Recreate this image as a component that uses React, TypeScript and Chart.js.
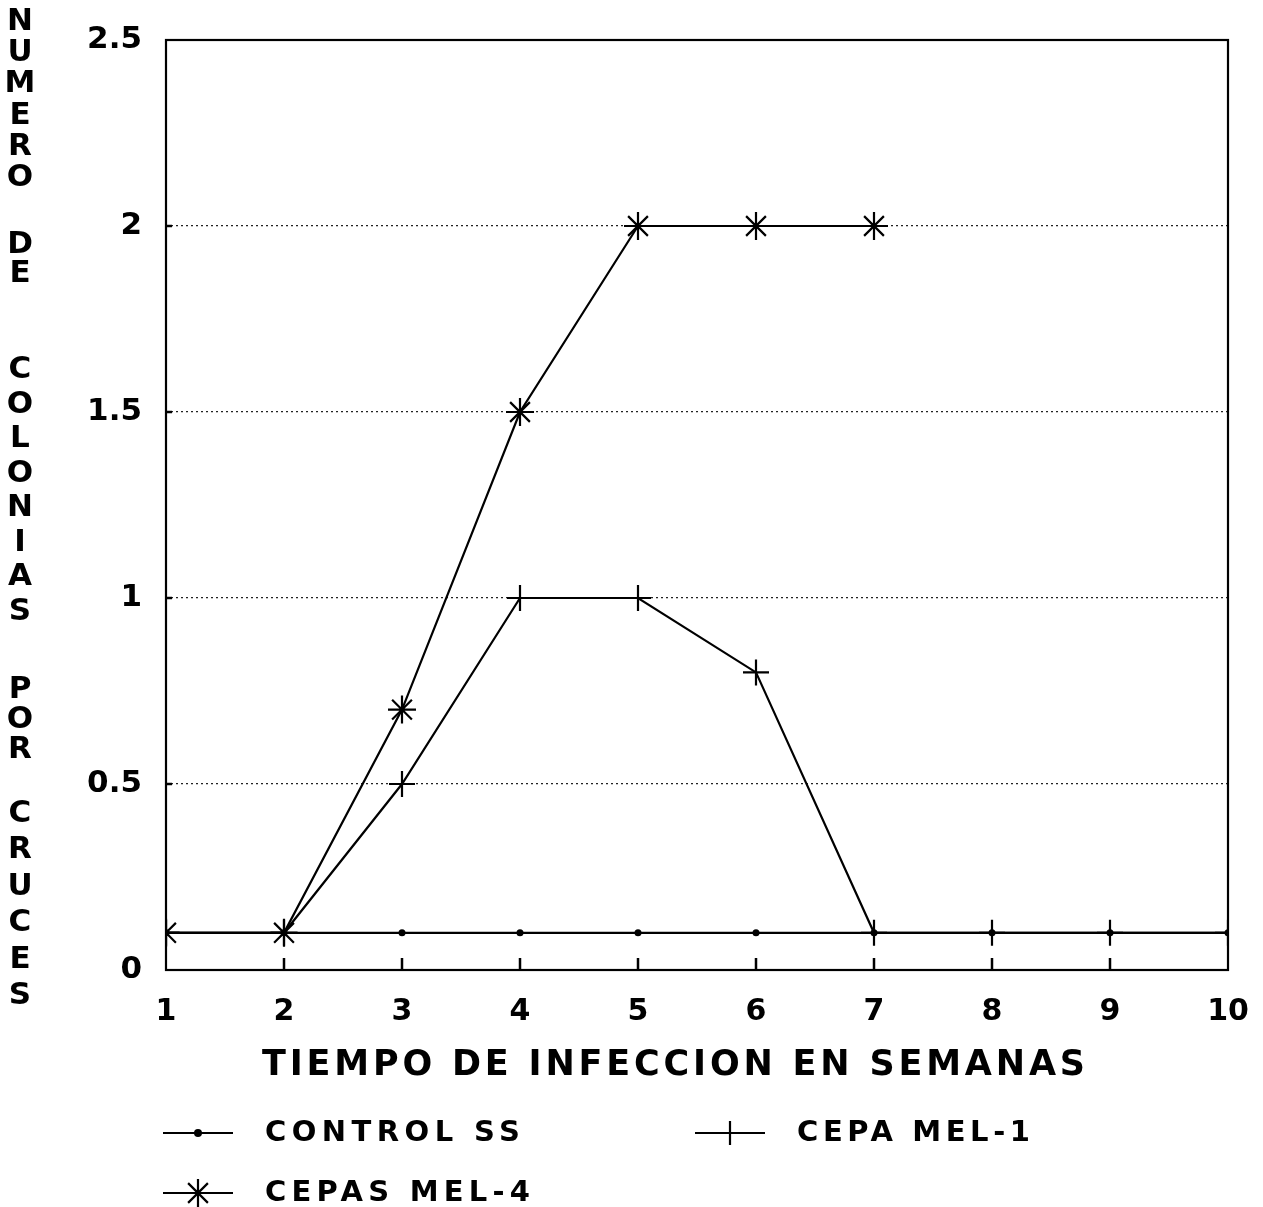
import React, { useEffect, useRef } from "react";
import { Chart, registerables } from "chart.js";

Chart.register(...registerables);

const weeks = [1, 2, 3, 4, 5, 6, 7, 8, 9, 10];
const controlSS = [0.1, 0.1, 0.1, 0.1, 0.1, 0.1, 0.1, 0.1, 0.1, 0.1];
const cepaMel1 = [0.1, 0.1, 0.5, 1, 1, 0.8, 0.1, 0.1, 0.1, 0.1];
const cepasMel4 = [0.1, 0.1, 0.7, 1.5, 2, 2, 2, null, null, null];
const seriesNames = ["CONTROL SS", "CEPA MEL-1", "CEPAS MEL-4"];
const yMin = 0;
const yMax = 2.5;
const yStep = 0.5;
const xTitle = "TIEMPO DE INFECCION EN SEMANAS";
const yTitle = "NUMERO DE COLONIAS POR CRUCES";

const FONT = "'DejaVu Sans', 'Liberation Sans', Arial, sans-serif";

function toPoints(vals: (number | null)[]) {
  return weeks.map((w, i) => ({ x: w, y: vals[i] }));
}

function drawSpaced(ctx: CanvasRenderingContext2D, text: string, left: number, right: number, yc: number, font: string) {
  ctx.save();
  ctx.font = font;
  ctx.textBaseline = "middle";
  ctx.textAlign = "left";
  (ctx as any).letterSpacing = "0px";
  const w = ctx.measureText(text).width;
  const n = text.length;
  const sp = n > 1 ? (right - left - w) / (n - 1) : 0;
  (ctx as any).letterSpacing = sp + "px";
  ctx.fillStyle = "#000";
  ctx.fillText(text, left, yc);
  ctx.restore();
}

function drawMarker(ctx: CanvasRenderingContext2D, kind: string, x: number, y: number, r: number) {
  ctx.beginPath();
  if (kind === "dot") {
    ctx.arc(x, y, r, 0, Math.PI * 2);
    ctx.fill();
    return;
  }
  ctx.moveTo(x, y - r);
  ctx.lineTo(x, y + r);
  ctx.moveTo(x - r, y);
  ctx.lineTo(x + r, y);
  if (kind === "star") {
    const d = r * Math.SQRT1_2;
    ctx.moveTo(x - d, y - d);
    ctx.lineTo(x + d, y + d);
    ctx.moveTo(x - d, y + d);
    ctx.lineTo(x + d, y - d);
  }
  ctx.stroke();
}

// vertical placement of each word of the stacked y title: [first letter centre, last letter centre]
const yTitleWordSpans: [number, number][] = [
  [22, 178],
  [245, 274],
  [370, 612],
  [690, 750],
  [814, 996],
];

const decorPlugin = {
  id: "decor",
  beforeDraw(chart: any) {
    const ctx = chart.ctx;
    ctx.save();
    ctx.fillStyle = "#fff";
    ctx.fillRect(0, 0, chart.width, chart.height);
    ctx.restore();
  },
  afterDatasetsDraw(chart: any) {
    const ctx: CanvasRenderingContext2D = chart.ctx;
    const { left, right, top, bottom } = chart.chartArea;
    const xs = chart.scales.x;
    const ys = chart.scales.y;
    ctx.save();
    ctx.strokeStyle = "#000";
    ctx.fillStyle = "#000";
    ctx.lineWidth = 2.2;
    ctx.strokeRect(left, top, right - left, bottom - top);
    // inward tick marks
    ctx.lineWidth = 2.5;
    for (let i = 1; i < weeks.length - 1; i++) {
      const px = xs.getPixelForValue(weeks[i]);
      ctx.beginPath();
      ctx.moveTo(px, bottom);
      ctx.lineTo(px, bottom - 12);
      ctx.stroke();
    }
    for (let v = yMin + yStep; v < yMax; v += yStep) {
      const py = ys.getPixelForValue(v);
      ctx.beginPath();
      ctx.moveTo(left, py);
      ctx.lineTo(left + 6, py);
      ctx.stroke();
    }
    // y title (stacked letters)
    ctx.font = `bold 31px ${FONT}`;
    ctx.textAlign = "center";
    ctx.textBaseline = "middle";
    const words = yTitle.split(" ");
    words.forEach((wd, wi) => {
      const [a, b] = yTitleWordSpans[wi];
      const st = wd.length > 1 ? (b - a) / (wd.length - 1) : 0;
      for (let i = 0; i < wd.length; i++) ctx.fillText(wd[i], 20, a + i * st);
    });
    // x title
    drawSpaced(ctx, xTitle, 262, 1085, 1066, `bold 35px ${FONT}`);
    // legend
    const legend = [
      { name: seriesNames[0], kind: "dot", sx: 163, tx: 265, tr: 520, y: 1133, r: 4 },
      { name: seriesNames[1], kind: "cross", sx: 695, tx: 797, tr: 1030, y: 1133, r: 12 },
      { name: seriesNames[2], kind: "star", sx: 163, tx: 265, tr: 530, y: 1193, r: 14 },
    ];
    for (const it of legend) {
      ctx.lineWidth = 2.2;
      ctx.beginPath();
      ctx.moveTo(it.sx, it.y);
      ctx.lineTo(it.sx + 70, it.y);
      ctx.stroke();
      drawMarker(ctx, it.kind, it.sx + 35, it.y, it.r);
      drawSpaced(ctx, it.name, it.tx, it.tr, it.y, `bold 29px ${FONT}`);
    }
    ctx.restore();
  },
};

export default function App() {
  const ref = useRef<HTMLCanvasElement | null>(null);
  useEffect(() => {
    if (!ref.current) return;
    const chart = new Chart(ref.current, {
      type: "line",
      data: {
        datasets: [
          {
            label: seriesNames[0],
            data: toPoints(controlSS),
            borderColor: "#000",
            backgroundColor: "#000",
            borderWidth: 2.2,
            pointStyle: "circle",
            pointRadius: 3.5,
            pointBorderWidth: 0,
            pointBackgroundColor: "#000",
          },
          {
            label: seriesNames[1],
            data: toPoints(cepaMel1),
            borderColor: "#000",
            backgroundColor: "#000",
            borderWidth: 2.2,
            pointStyle: "cross",
            pointRadius: 13,
            pointBorderWidth: 2.2,
            pointBorderColor: "#000",
          },
          {
            label: seriesNames[2],
            data: toPoints(cepasMel4),
            borderColor: "#000",
            backgroundColor: "#000",
            borderWidth: 2.2,
            pointStyle: "star",
            pointRadius: 14,
            pointBorderWidth: 2.2,
            pointBorderColor: "#000",
            spanGaps: false,
          },
        ],
      },
      options: {
        animation: false,
        responsive: false,
        maintainAspectRatio: false,
        events: [],
        layout: { padding: { top: 40, right: 35, left: 0, bottom: 0 } },
        plugins: { legend: { display: false }, tooltip: { enabled: false } },
        scales: {
          x: {
            type: "linear",
            min: weeks[0],
            max: weeks[weeks.length - 1],
            afterFit: (s: any) => {
              s.height = 237;
              s.paddingLeft = 0;
              s.paddingRight = 0;
            },
            ticks: {
              stepSize: 1,
              padding: 24,
              color: "#000",
              font: { family: FONT, size: 30, weight: "bold" },
              maxRotation: 0,
            },
            grid: { display: false, drawTicks: false },
            border: { display: false },
          },
          y: {
            type: "linear",
            min: yMin,
            max: yMax,
            afterFit: (s: any) => {
              s.width = 166;
              s.paddingTop = 0;
              s.paddingBottom = 0;
            },
            ticks: {
              stepSize: yStep,
              padding: 24,
              color: "#000",
              font: { family: FONT, size: 31, weight: "bold" },
              callback: (v: any) => String(v),
            },
            grid: {
              drawTicks: false,
              color: (c: any) => (c.tick && (c.tick.value === yMin || c.tick.value === yMax) ? "rgba(0,0,0,0)" : "#222"),
              lineWidth: 1.2,
            },
            border: { display: false, dash: [2, 3] },
          },
        },
      },
      plugins: [decorPlugin],
    } as any);
    return () => chart.destroy();
  }, []);
  return (
    <div style={{ position: "fixed", left: 0, top: 0, width: 1263, height: 1207, background: "#fff" }}>
      <canvas ref={ref} width={1263} height={1207} style={{ width: 1263, height: 1207, display: "block" }} />
    </div>
  );
}
